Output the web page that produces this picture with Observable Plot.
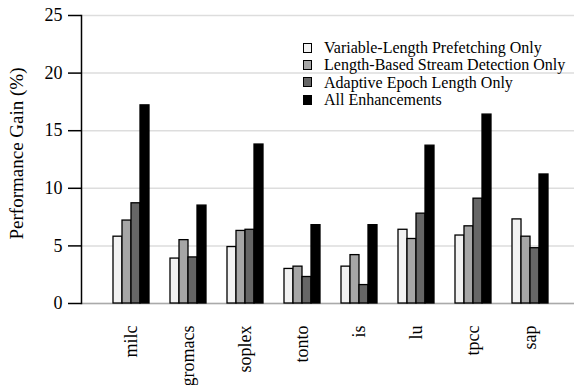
<!DOCTYPE html>
<html>
<head>
<meta charset="utf-8">
<script src="https://cdn.jsdelivr.net/npm/d3@7"></script>
<script src="https://cdn.jsdelivr.net/npm/@observablehq/plot@0.6"></script>
<style>
  body { margin: 0; background: #fff; }
  #chart { position: relative; width: 574px; height: 385px; font-family: "Liberation Serif", serif; }
  #legend { position: absolute; left: 303px; top: 39px; font-size: 16px; line-height: 17.3px; color: #000; }
  #legend .row { display: flex; align-items: center; white-space: nowrap; }
  #legend .sw { width: 7px; height: 8px; border: 1.5px solid #000; margin-right: 12px; }
</style>
</head>
<body>
<div id="chart"><div id="legend"></div></div>
<script>
// Benchmarks on the x axis
const benchmarks = ["milc", "gromacs", "soplex", "tonto", "is", "lu", "tpcc", "sap"];

// Series names and their fills
const seriesNames = [
  "Variable-Length Prefetching Only",
  "Length-Based Stream Detection Only",
  "Adaptive Epoch Length Only",
  "All Enhancements"
];
const seriesFills = ["#f2f2f2", "#a6a6a6", "#666666", "#000000"];

// Performance gain (%) per benchmark, one array per series
const variableLength = [5.8, 3.9, 4.9, 3.0, 3.2, 6.4, 5.9, 7.3];
const lengthBased    = [7.2, 5.5, 6.3, 3.2, 4.2, 5.6, 6.7, 5.8];
const adaptiveEpoch  = [8.7, 4.0, 6.4, 2.3, 1.6, 7.8, 9.1, 4.8];
const allEnh         = [17.2, 8.5, 13.8, 6.8, 6.8, 13.7, 16.4, 11.2];

const yTicks = [0, 5, 10, 15, 20, 25];

const seriesValues = [variableLength, lengthBased, adaptiveEpoch, allEnh];

// One bar mark per series, shifted inside each benchmark band
const groupWidth = 36;
const nSeries = seriesValues.length;
const barW = groupWidth / nSeries;
const barMarks = seriesValues.map((vals, i) =>
  Plot.barY(benchmarks.map((b, j) => ({bench: b, value: vals[j]})), {
    x: "bench",
    y: "value",
    fill: seriesFills[i],
    stroke: "#000",
    strokeWidth: 1.3,
    insetLeft: barW * i,
    insetRight: groupWidth - barW * (i + 1)
  })
);

const chart = Plot.plot({
  width: 574,
  height: 385,
  marginTop: 15,
  marginBottom: 82,
  marginLeft: 81,
  marginRight: 0,
  style: {fontFamily: "Liberation Serif, serif", fontSize: "16px", color: "#000", background: "#fff"},
  x: {domain: benchmarks, range: [102.5, 558.5], paddingInner: 0.368, paddingOuter: 0.184, label: null},
  y: {domain: [0, 25], label: null},
  marks: [
    Plot.gridY(yTicks, {stroke: "#dddddd", strokeOpacity: 1, strokeWidth: 1.5}),
    Plot.ruleY([0], {stroke: "#aaaaaa", strokeWidth: 1.5}),
    ...barMarks,
    Plot.frame({anchor: "left", stroke: "#000", strokeWidth: 1.5}),
    Plot.axisY(yTicks, {tickSize: 13, tickPadding: 6, strokeWidth: 1.5, fontSize: 18, label: null}),
    Plot.axisX({tickSize: 0, tickPadding: 22, tickRotate: -90, fontSize: 18, label: null}),
    Plot.text(["Performance Gain (%)"], {
      frameAnchor: "left", textAnchor: "middle", dx: -65, dy: -6, rotate: -90, fontSize: 19, text: d => d
    })
  ]
});

const root = document.getElementById("chart");
root.insertBefore(chart, root.firstChild);

// Legend drawn over the upper-right of the plot area
const legend = d3.select("#legend");
seriesNames.forEach((name, i) => {
  const row = legend.append("div").attr("class", "row");
  row.append("div").attr("class", "sw").style("background", seriesFills[i]);
  row.append("span").text(name);
});
</script>
</body>
</html>
